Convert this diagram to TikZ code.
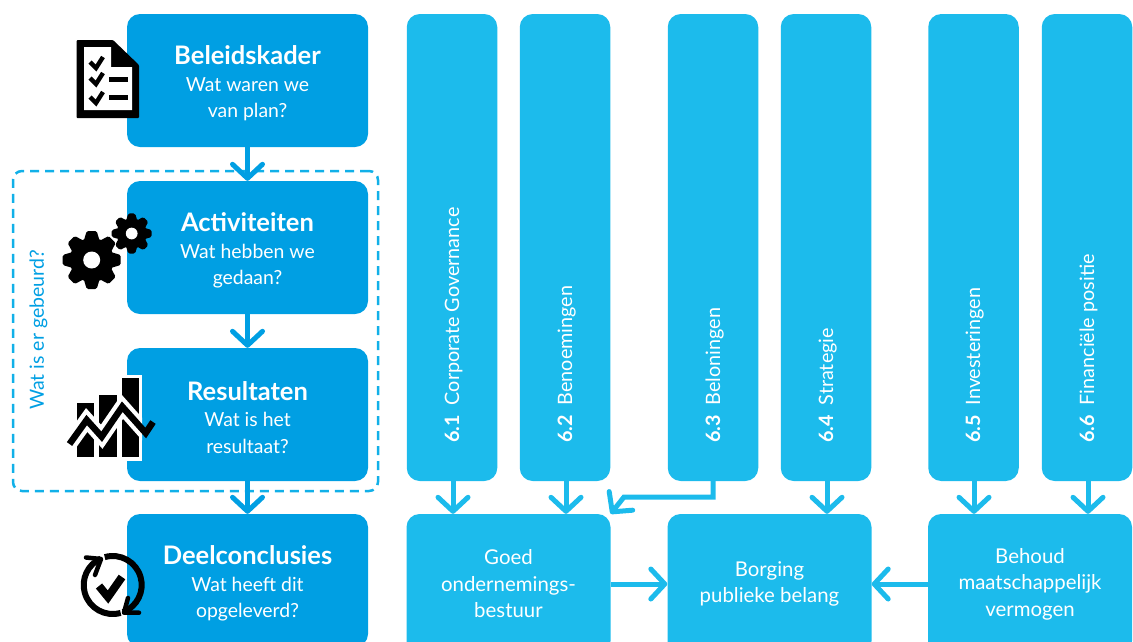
\documentclass[tikz,border=0pt]{standalone}
\usepackage{fontspec}
\setmainfont{Lato}
\usetikzlibrary{arrows.meta}
\usetikzlibrary{positioning}
\definecolor{donker}{HTML}{009FE3}
\definecolor{licht}{HTML}{1CBBEC}
\newcommand{\kop}[1]{{\fontsize{25.5}{28}\selectfont\bfseries\rule{0pt}{25pt}#1}}
\tikzset{
	basebox/.style={rectangle, rounded corners=13pt, inner sep=0pt, text=white, align=center,
	                font=\fontsize{19.4}{26.5}\selectfont},
	kaderbox/.style={basebox, fill=donker, minimum width=241pt, minimum height=133pt},
	columnbox/.style={basebox, fill=licht, minimum width=90.5pt, minimum height=467pt},
	endbox/.style={basebox, fill=licht, minimum width=204pt, minimum height=140pt,
	               font=\fontsize{20.4}{26.5}\selectfont},
	columnlabel/.style={rotate=90, anchor=west, inner sep=0pt, text=white, text height=16pt, text depth=4pt,
	                    font=\fontsize{19.8}{22}\selectfont},
	flow/.style={line width=5pt, -{Straight Barb[round,length=14pt,width=30pt]}},
	gearicon/.pic={
		\fill[black] (0,0) circle[radius=22];
		\foreach \a in {0,45,...,315}
			\fill[black, rotate=\a, rounded corners=1.5pt] (19,-8) -- (29,-5) -- (29,5) -- (19,8) -- cycle;
		\fill[white] (0,0) circle[radius=8.5];
	}
}
\begin{document}
\begin{tikzpicture}[x=1pt,y=-1pt]
	\useasboundingbox (0,0) rectangle (1133,641);
	\clip (0,0) rectangle (1133,641);

	\node[draw=licht!60!donker, dashed, line width=2.5pt, dash pattern=on 9pt off 6pt, rectangle, rounded corners=9pt,
	      minimum width=365pt, minimum height=320pt, inner sep=0pt] (wrap) at (195.5,331) {};
	\node[rotate=90, text=donker, inner sep=0pt, font=\fontsize{19.5}{22}\selectfont] (wraplabel) at (38.5,330) {Wat is er gebeurd?};

	\node[kaderbox] (kader) at (247.5,80.5) {\kop{Beleidskader}\\Wat waren we\\van plan?};
	\node[kaderbox] (act) at (247.5,247.5) {\kop{Activiteiten}\\Wat hebben we\\gedaan?};
	\node[kaderbox] (res) at (247.5,414.5) {\kop{Resultaten}\\Wat is het\\resultaat?};
	\node[kaderbox] (concl) at (247.5,580.5) {\kop{Deelconclusies}\\Wat heeft dit\\opgeleverd?};

	\node[columnbox] (c1) at (452,247.5) {};
	\node[columnbox] (c2) at (565,247.5) {};
	\node[columnbox] (c3) at (713,247.5) {};
	\node[columnbox] (c4) at (826,247.5) {};
	\node[columnbox] (c5) at (973.5,247.5) {};
	\node[columnbox] (c6) at (1087,247.5) {};

	\node[columnlabel] (l1) at (453,443) {\textbf{6.1}\enspace Corporate Governance};
	\node[columnlabel] (l2) at (566,443) {\textbf{6.2}\enspace Benoemingen};
	\node[columnlabel] (l3) at (714,443) {\textbf{6.3}\enspace Beloningen};
	\node[columnlabel] (l4) at (827,443) {\textbf{6.4}\enspace Strategie};
	\node[columnlabel] (l5) at (974,443) {\textbf{6.5}\enspace Investeringen};
	\node[columnlabel] (l6) at (1088,443) {\textbf{6.6}\enspace Financi\"ele positie};

	\node[endbox] (goed) at (508.5,584) {Goed\\ondernemings-\\bestuur};
	\node[endbox] (borg) at (769.5,584) {Borging\\publieke belang};
	\node[endbox] (behoud) at (1030,584) {Behoud\\maatschappelijk\\vermogen};

	\coordinate (bend) at (624,497);

	\draw[flow, donker] (kader) -- (act);
	\draw[flow, donker] (act) -- (res);
	\draw[flow, donker] (res) -- (concl);
	\draw[flow, licht] (c1.south -| l1) -- (goed.north -| l1);
	\draw[flow, licht] (c2.south -| l2) -- (goed.north -| l2);
	\draw[flow, licht, rounded corners=0pt] (c3.south) |- (bend) -- (goed.north east);
	\draw[flow, licht] (c4.south -| l4) -- (borg.north -| l4);
	\draw[flow, licht] (c5.south -| l5) -- (behoud.north -| l5);
	\draw[flow, licht] (c6.south -| l6) -- (behoud.north -| l6);
	\draw[flow, licht] (goed) -- (borg);
	\draw[flow, licht] (behoud) -- (borg);

	\fill[black, rounded corners=1pt] (76.5,40) -- (113,40) -- (139,65) -- (139,118) -- (76.5,118) -- cycle;
	\fill[white] (84,47) -- (111,47) -- (111,67) -- (132,67) -- (132,110) -- (84,110) -- cycle;
	\foreach \y in {0,16,35}
		\draw[black, line width=4.4pt] (90,62+\y) -- (96,68+\y) -- (103,57+\y);
	\fill[black] (109,77) rectangle (128,82);
	\fill[black] (109,94.5) rectangle (128,99.5);

	\pic at (91.7,260) {gearicon};
	\pic[scale=0.69] at (131.7,233.5) {gearicon};

	\fill[white] (127,375) rectangle (142,461);
	\fill[black] (77,403) rectangle (94,457);
	\fill[black] (99,395) rectangle (117,457);
	\fill[black] (122,378) rectangle (139,457);
	\begin{scope}
		\clip (60,370) rectangle (142,470);
		\draw[white, line width=15pt, miter limit=10] (69.5,444) -- (86.7,420) -- (101.7,436.7) -- (122.3,406.7) -- (145.7,433) -- (153,422);
	\end{scope}
	\draw[black, line width=6.5pt] (69.5,444) -- (86.7,420) -- (101.7,436.7) -- (122.3,406.7) -- (145.7,433) -- (153,422);

	\draw[black, line width=6pt] (112.7,585) ++(74:29) arc[start angle=74, end angle=246, radius=29];
	\draw[black, line width=6pt] (112.7,585) ++(-106:29) arc[start angle=-106, end angle=69, radius=29];
	\draw[black, line width=4.5pt, line cap=round, line join=round] (86,557.5) -- (101,559) -- (95,575);
	\draw[black, line width=4.5pt, line cap=round, line join=round] (139,612.7) -- (124,612.7) -- (128,598);
	\draw[black, line width=8pt] (99,586) -- (108,597) -- (122,577);
\end{tikzpicture}
\end{document}
